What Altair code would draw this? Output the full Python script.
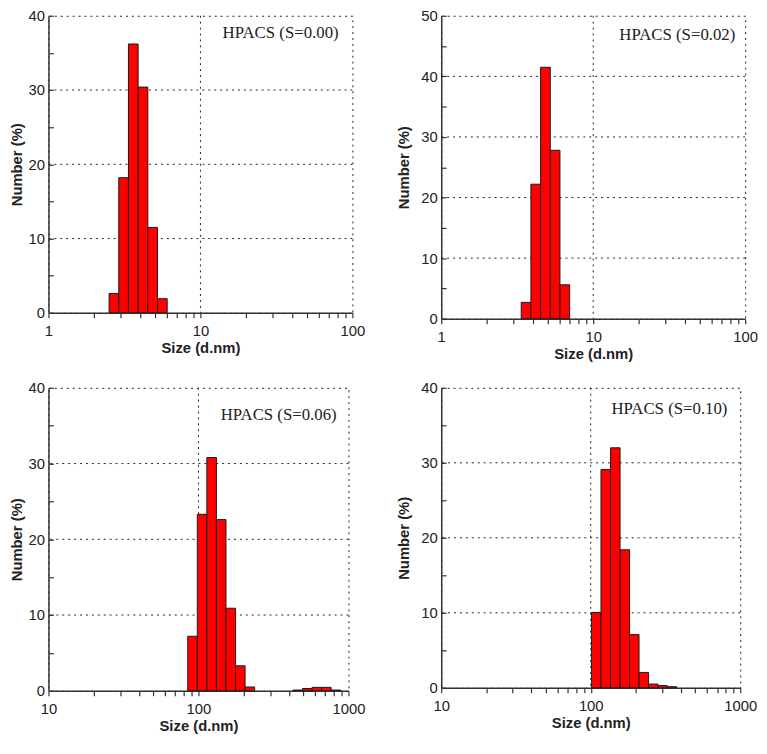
import math
import pandas as pd
import altair as alt

FONT = "Liberation Sans"
SERIF = "Liberation Serif"
BIN_RATIO = 1.158  # size-class ratio of the instrument's log bins

# ---- data ----
p1_sizes = [2.696, 3.122, 3.615, 4.187, 4.849, 5.615]
p1_values = [2.6, 18.2, 36.2, 30.4, 11.5, 1.9]

p2_sizes = [3.615, 4.187, 4.849, 5.615, 6.503]
p2_values = [2.7, 22.2, 41.5, 27.8, 5.6]

p3_sizes = [91.28, 105.7, 122.4, 141.8, 164.2, 190.1, 220.2, 458.7, 531.2, 615.1, 712.4, 825.0]
p3_values = [7.2, 23.3, 30.8, 22.6, 10.9, 3.3, 0.5, 0.1, 0.3, 0.45, 0.45, 0.1]

p4_sizes = [109.0, 126.0, 146.0, 169.0, 195.5, 226.5, 262.0, 302.0, 350.0]
p4_values = [10.05, 29.1, 32.0, 18.4, 7.1, 2.05, 0.5, 0.3, 0.15]

labels = ["HPACS (S=0.00)", "HPACS (S=0.02)", "HPACS (S=0.06)", "HPACS (S=0.10)"]

xticks_1_100 = [1, 2, 3, 4, 5, 6, 7, 8, 9, 10, 20, 30, 40, 50, 60, 70, 80, 90, 100]
xticks_10_1000 = [10, 20, 30, 40, 50, 60, 70, 80, 90, 100, 200, 300, 400, 500, 600, 700, 800, 900, 1000]
xgrid_1_100 = [10]
xgrid_10_1000 = [100]

y40_labels = [0, 10, 20, 30, 40]
y40_ticks = [0, 5, 10, 15, 20, 25, 30, 35, 40]
y40_grid = [10, 20, 30]
y50_labels = [0, 10, 20, 30, 40, 50]
y50_ticks = [0, 5, 10, 15, 20, 25, 30, 35, 40, 45, 50]
y50_grid = [10, 20, 30, 40]

LABEL_EXPR = ("abs(log(datum.value)/LN10 - round(log(datum.value)/LN10)) < 1e-6 "
              "? format(datum.value, 'd') : ''")

GRID_STYLE = dict(color="#222222", strokeDash=[2, 4], strokeWidth=1)


def panel(sizes, values, xdom, xticks, xgrid, ymax, ylabels, yticks, ygrid,
          label, w, h, ytp, lx, ly):
    half = math.sqrt(BIN_RATIO)
    df = pd.DataFrame({"size": sizes, "pct": values})
    df["lo"] = df["size"] / half
    df["hi"] = df["size"] * half
    df["base"] = 0

    xs = alt.Scale(type="log", domain=xdom, nice=False)
    ys = alt.Scale(domain=[0, ymax], nice=False, zero=True)

    xaxis = alt.Axis(values=xticks, labelExpr=LABEL_EXPR, title="Size (d.nm)",
                     grid=False, tickSize=5, labelPadding=6, titlePadding=2,
                     labelFlush=False, labelOverlap=False)
    yaxis = alt.Axis(values=ylabels, title="Number (%)", grid=False, ticks=False,
                     labelPadding=4, titlePadding=ytp, labelOverlap=False)

    hg = alt.Chart(pd.DataFrame({"g": ygrid})).mark_rule(**GRID_STYLE).encode(
        y=alt.Y("g:Q", scale=ys, axis=None))
    vg = alt.Chart(pd.DataFrame({"g": xgrid})).mark_rule(**GRID_STYLE).encode(
        x=alt.X("g:Q", scale=xs, axis=xaxis))
    bars = alt.Chart(df).mark_rect(fill="#ff0000", stroke="#1a1a1a", strokeWidth=1).encode(
        x=alt.X("lo:Q", scale=xs, axis=xaxis),
        x2="hi:Q",
        y=alt.Y("pct:Q", scale=ys, axis=yaxis),
        y2="base:Q",
    )
    tk = alt.Chart(pd.DataFrame({"t": yticks})).mark_point(opacity=0).encode(
        y=alt.Y("t:Q", scale=ys,
                axis=alt.Axis(orient="right", offset=-w, values=yticks, labels=False,
                              domain=False, ticks=True, tickSize=5, title=None,
                              grid=False)))
    txt = alt.Chart(pd.DataFrame({"t": [label]})).mark_text(
        align="right", baseline="middle", font=SERIF, fontSize=17, color="#222222"
    ).encode(x=alt.value(w - lx), y=alt.value(ly), text="t:N")

    return (alt.layer(hg, vg, bars, tk, txt)
            .resolve_axis(y="independent")
            .properties(width=w, height=h))


p1 = panel(p1_sizes, p1_values, [1, 100], xticks_1_100, xgrid_1_100, 40,
           y40_labels, y40_ticks, y40_grid, labels[0], 308, 301, 4, 14, 18)
p2 = panel(p2_sizes, p2_values, [1, 100], xticks_1_100, xgrid_1_100, 50,
           y50_labels, y50_ticks, y50_grid, labels[1], 308, 307, 9, 10, 20)
p3 = panel(p3_sizes, p3_values, [10, 1000], xticks_10_1000, xgrid_10_1000, 40,
           y40_labels, y40_ticks, y40_grid, labels[2], 304, 307, 4, 12, 28)
p4 = panel(p4_sizes, p4_values, [10, 1000], xticks_10_1000, xgrid_10_1000, 40,
           y40_labels, y40_ticks, y40_grid, labels[3], 303, 304, 9, 13, 22)

chart = (
    alt.concat(p1, p2, p3, p4, columns=2,
               spacing=alt.RowColnumber(row=18, column=30))
    .properties(padding={"top": -5, "left": 0, "right": 0, "bottom": 0})
    .configure_view(stroke="#222222", strokeDash=[2, 4], strokeWidth=1)
    .configure_axis(
        labelFont=FONT, labelFontSize=15, labelColor="#222222",
        titleFont=FONT, titleFontSize=15, titleColor="#222222", titleFontWeight="bold",
        domainColor="#333333", domainWidth=1.5, tickColor="#333333", tickWidth=1.2,
    )
)

chart.save("out.html", embed_options={"renderer": "svg", "actions": False})
